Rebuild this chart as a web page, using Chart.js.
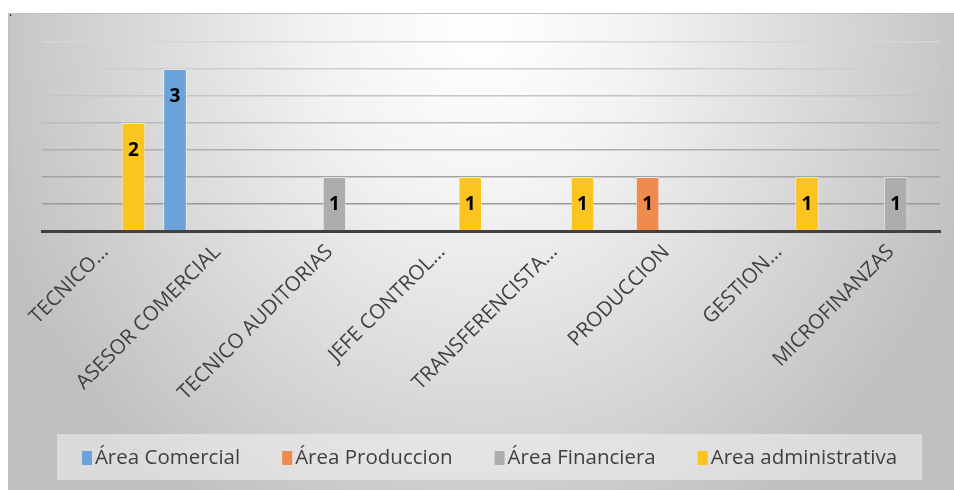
<!DOCTYPE html>
<html>
<head>
<meta charset="utf-8">
<script src="https://cdn.jsdelivr.net/npm/chart.js@4"></script>
<style>
  html, body { margin: 0; padding: 0; background: #fff; }
  #wrap { position: relative; width: 954px; height: 490px; }
</style>
</head>
<body>
<div id="wrap"><canvas id="chart-puestos" width="954" height="490"></canvas></div>
<script>
// Puestos por área
const puestos = ["TECNICO…", "ASESOR COMERCIAL", "TECNICO AUDITORIAS", "JEFE CONTROL…",
  "TRANSFERENCISTA…", "PRODUCCION", "GESTION…", "MICROFINANZAS"];
const areas = ["Área Comercial", "Área Produccion", "Área Financiera", "Area administrativa"];
const areaComercial = [null, 3, null, null, null, null, null, null];
const areaProduccion = [null, null, null, null, null, 1, null, null];
const areaFinanciera = [null, null, 1, null, null, null, null, 1];
const areaAdministrativa = [2, null, null, 1, 1, null, 1, null];
const colores = ["#6aa3d9", "#ef8c4d", "#adadad", "#fcc41e"];

const FONT = "'Open Sans', 'Noto Sans', sans-serif";

// fondo con degradado tipo Excel
const fondo = {
  id: "fondo",
  beforeDraw(chart) {
    const c = chart.ctx;
    c.save();
    c.fillStyle = "#fff";
    c.fillRect(0, 0, chart.width, chart.height);
    c.save();
    c.beginPath();
    c.rect(8, 13, chart.width - 8, chart.height - 13);
    c.clip();
    c.translate(480, 30);
    c.scale(1, 1.1);
    const g = c.createRadialGradient(0, 0, 0, 0, 0, 520);
    g.addColorStop(0, "#ffffff");
    g.addColorStop(0.3, "#f3f3f3");
    g.addColorStop(1, "#bfbfbf");
    c.fillStyle = g;
    c.fillRect(-600, -100, 1300, 700);
    c.restore();
    c.strokeStyle = "#c0c0c0";
    c.lineWidth = 1;
    c.strokeRect(8.5, 13.5, chart.width, chart.height);
    c.fillStyle = "#000";
    c.font = "12px " + FONT;
    c.fillText(".", 9, 16);
    c.restore();
  }
};

// etiquetas dentro de las barras
const etiquetas = {
  id: "etiquetas",
  afterDatasetsDraw(chart) {
    const c = chart.ctx;
    c.save();
    c.font = "bold 19px " + FONT;
    c.fillStyle = "#000";
    c.textAlign = "center";
    c.textBaseline = "middle";
    chart.data.datasets.forEach((ds, i) => {
      chart.getDatasetMeta(i).data.forEach((bar, j) => {
        const v = ds.data[j];
        if (v == null) return;
        c.fillText(String(v), bar.x, bar.y + 28);
      });
    });
    c.restore();
  }
};

// leyenda dibujada a mano
const leyenda = {
  id: "leyenda",
  afterDraw(chart) {
    const c = chart.ctx;
    c.save();
    c.fillStyle = "rgba(242,242,242,0.55)";
    c.fillRect(57, 434, 865, 46);
    c.font = "20.5px " + FONT;
    c.textBaseline = "middle";
    const gap = 42;
    const widths = areas.map(a => 13 + c.measureText(a).width);
    const total = widths.reduce((s, w) => s + w, 0) + gap * (areas.length - 1);
    let x = 57 + (865 - total) / 2;
    const y = 458;
    areas.forEach((a, i) => {
      c.fillStyle = colores[i];
      c.fillRect(x, y - 7, 10, 14);
      c.fillStyle = "#404040";
      c.fillText(a, x + 13, y);
      x += widths[i] + gap;
    });
    c.restore();
  }
};

const gridColors = { 0.5: "#999999", 1: "#a3a3a3", 1.5: "#afafaf", 2: "#bababa", 2.5: "#c5c5c5", 3: "#cecece", 3.5: "#d6d6d6" };

new Chart(document.getElementById("chart-puestos"), {
  type: "bar",
  data: {
    labels: puestos,
    datasets: [
      { label: areas[0], data: areaComercial, backgroundColor: colores[0] },
      { label: areas[1], data: areaProduccion, backgroundColor: colores[1] },
      { label: areas[2], data: areaFinanciera, backgroundColor: colores[2] },
      { label: areas[3], data: areaAdministrativa, backgroundColor: colores[3] }
    ].map(d => Object.assign(d, {
      borderColor: "rgba(255,255,255,0.55)",
      borderWidth: 1,
      categoryPercentage: 0.84,
      barPercentage: 1
    }))
  },
  options: {
    responsive: false,
    animation: false,
    layout: { padding: { top: 42, left: 42, right: 14, bottom: 0 } },
    plugins: { legend: { display: false }, tooltip: { enabled: false } },
    scales: {
      x: {
        grid: { display: false },
        border: { display: true, color: "#404040", width: 3 },
        ticks: {
          color: "#404040",
          font: { family: FONT, size: 20.5 },
          minRotation: 45,
          maxRotation: 45,
          autoSkip: false,
          padding: 1,
          labelOffset: 7
        },
        afterFit(scale) { scale.height = 259; }
      },
      y: {
        min: 0,
        max: 3.5,
        ticks: { display: false, stepSize: 0.5 },
        border: { display: false },
        grid: {
          drawTicks: false,
          lineWidth: 1.5,
          color: ctx => gridColors[ctx.tick.value] || "rgba(0,0,0,0)"
        },
        afterFit(scale) { scale.width = 0; }
      }
    }
  },
  plugins: [fondo, etiquetas, leyenda]
});
</script>
</body>
</html>
